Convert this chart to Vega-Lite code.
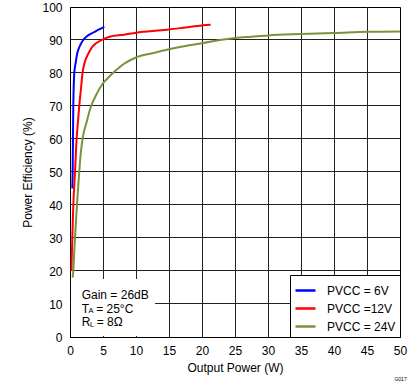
{
  "$schema": "https://vega.github.io/schema/vega-lite/v6.json",
  "autosize": "none",
  "width": 330,
  "height": 330,
  "padding": {"left": 70, "top": 7, "right": 19, "bottom": 45},
  "background": "white",
  "config": {
    "font": "Liberation Sans",
    "view": {"stroke": "black", "strokeWidth": 1},
    "axis": {
      "labelFont": "Liberation Sans", "titleFont": "Liberation Sans",
      "labelFontSize": 12, "titleFontSize": 12, "titleFontWeight": "normal",
      "labelColor": "black", "titleColor": "black",
      "domainColor": "black", "domainWidth": 1,
      "grid": false,
      "tickSize": 0, "tickOpacity": 0, "labelFlush": false, "labelPadding": 8
    },
    "axisX": {"tickCount": 10, "titlePadding": 6},
    "axisY": {"tickCount": 10, "titlePadding": 7},
    "legend": {
      "labelFont": "Liberation Sans", "labelFontSize": 12, "labelColor": "black"
    }
  },
  "title": {"text": "G017", "orient": "bottom", "anchor": "end", "fontSize": 5, "fontWeight": "normal", "font": "Liberation Sans", "offset": 4, "color": "black"},
  "datasets": {
    "curves": [
      {"s": "PVCC = 6V", "p": 0.35, "e": 45},
      {"s": "PVCC = 6V", "p": 0.4, "e": 50},
      {"s": "PVCC = 6V", "p": 0.45, "e": 60},
      {"s": "PVCC = 6V", "p": 0.5, "e": 70},
      {"s": "PVCC = 6V", "p": 0.65, "e": 80},
      {"s": "PVCC = 6V", "p": 0.85, "e": 83},
      {"s": "PVCC = 6V", "p": 1.1, "e": 86},
      {"s": "PVCC = 6V", "p": 1.5, "e": 88.2},
      {"s": "PVCC = 6V", "p": 2.0, "e": 90},
      {"s": "PVCC = 6V", "p": 2.6, "e": 91.2},
      {"s": "PVCC = 6V", "p": 3.3, "e": 92},
      {"s": "PVCC = 6V", "p": 4.0, "e": 92.8},
      {"s": "PVCC = 6V", "p": 4.6, "e": 93.4},
      {"s": "PVCC = 6V", "p": 5.2, "e": 94},
      {"s": "PVCC =12V", "p": 0.22, "e": 20},
      {"s": "PVCC =12V", "p": 0.25, "e": 23},
      {"s": "PVCC =12V", "p": 0.35, "e": 30},
      {"s": "PVCC =12V", "p": 0.5, "e": 40},
      {"s": "PVCC =12V", "p": 0.76, "e": 50},
      {"s": "PVCC =12V", "p": 1.0, "e": 60},
      {"s": "PVCC =12V", "p": 1.2, "e": 65},
      {"s": "PVCC =12V", "p": 1.4, "e": 70},
      {"s": "PVCC =12V", "p": 1.65, "e": 75},
      {"s": "PVCC =12V", "p": 1.9, "e": 80},
      {"s": "PVCC =12V", "p": 2.2, "e": 83},
      {"s": "PVCC =12V", "p": 2.8, "e": 86},
      {"s": "PVCC =12V", "p": 3.4, "e": 88},
      {"s": "PVCC =12V", "p": 4.8, "e": 90},
      {"s": "PVCC =12V", "p": 6.0, "e": 91},
      {"s": "PVCC =12V", "p": 8.2, "e": 91.6},
      {"s": "PVCC =12V", "p": 10, "e": 92.2},
      {"s": "PVCC =12V", "p": 12.5, "e": 92.7},
      {"s": "PVCC =12V", "p": 15, "e": 93.2},
      {"s": "PVCC =12V", "p": 17.5, "e": 93.8},
      {"s": "PVCC =12V", "p": 20, "e": 94.4},
      {"s": "PVCC =12V", "p": 21.3, "e": 94.6},
      {"s": "PVCC = 24V", "p": 0.4, "e": 18},
      {"s": "PVCC = 24V", "p": 0.5, "e": 20},
      {"s": "PVCC = 24V", "p": 0.62, "e": 25},
      {"s": "PVCC = 24V", "p": 0.76, "e": 30},
      {"s": "PVCC = 24V", "p": 0.9, "e": 35},
      {"s": "PVCC = 24V", "p": 1.06, "e": 40},
      {"s": "PVCC = 24V", "p": 1.22, "e": 45},
      {"s": "PVCC = 24V", "p": 1.4, "e": 50},
      {"s": "PVCC = 24V", "p": 1.6, "e": 55},
      {"s": "PVCC = 24V", "p": 1.9, "e": 60},
      {"s": "PVCC = 24V", "p": 2.5, "e": 65},
      {"s": "PVCC = 24V", "p": 3.2, "e": 70},
      {"s": "PVCC = 24V", "p": 4.0, "e": 73.5},
      {"s": "PVCC = 24V", "p": 5.0, "e": 76.9},
      {"s": "PVCC = 24V", "p": 6.0, "e": 79},
      {"s": "PVCC = 24V", "p": 6.8, "e": 80.5},
      {"s": "PVCC = 24V", "p": 8.2, "e": 82.8},
      {"s": "PVCC = 24V", "p": 10, "e": 84.7},
      {"s": "PVCC = 24V", "p": 12.5, "e": 86},
      {"s": "PVCC = 24V", "p": 15, "e": 87.2},
      {"s": "PVCC = 24V", "p": 17.5, "e": 88.2},
      {"s": "PVCC = 24V", "p": 20, "e": 89},
      {"s": "PVCC = 24V", "p": 22.7, "e": 90},
      {"s": "PVCC = 24V", "p": 25, "e": 90.6},
      {"s": "PVCC = 24V", "p": 27.5, "e": 91},
      {"s": "PVCC = 24V", "p": 30, "e": 91.4},
      {"s": "PVCC = 24V", "p": 35, "e": 91.8},
      {"s": "PVCC = 24V", "p": 40, "e": 92.1},
      {"s": "PVCC = 24V", "p": 45, "e": 92.5},
      {"s": "PVCC = 24V", "p": 50, "e": 92.6}
    ],
    "gridx": [{"g": 5}, {"g": 10}, {"g": 15}, {"g": 20}, {"g": 25}, {"g": 30}, {"g": 35}, {"g": 40}, {"g": 45}],
    "gridy": [{"g": 10}, {"g": 20}, {"g": 30}, {"g": 40}, {"g": 50}, {"g": 60}, {"g": 70}, {"g": 80}, {"g": 90}],
    "one": [{}]
  },
  "layer": [
    {
      "data": {"name": "gridx"},
      "mark": {"type": "rect", "fill": "#222222", "x2Offset": 1},
      "encoding": {
        "x": {"field": "g", "type": "quantitative"},
        "x2": {"field": "g"},
        "y": {"datum": 0},
        "y2": {"datum": 100}
      }
    },
    {
      "data": {"name": "gridy"},
      "mark": {"type": "rect", "fill": "#222222", "y2Offset": -1},
      "encoding": {
        "y": {"field": "g", "type": "quantitative"},
        "y2": {"field": "g"},
        "x": {"datum": 0},
        "x2": {"datum": 50}
      }
    },
    {
      "data": {"name": "curves"},
      "mark": {"type": "line", "strokeWidth": 2, "interpolate": "monotone", "clip": true},
      "encoding": {
        "x": {"field": "p", "type": "quantitative",
          "scale": {"domain": [0, 50], "nice": false, "zero": false},
          "axis": {"title": "Output Power (W)"}},
        "y": {"field": "e", "type": "quantitative",
          "scale": {"domain": [0, 100], "nice": false},
          "axis": {"title": "Power Efficiency (%)"}},
        "color": {"field": "s", "type": "nominal",
          "scale": {"domain": ["PVCC = 6V", "PVCC =12V", "PVCC = 24V"], "range": ["#0000FF", "#FF0000", "#77933C"]},
          "legend": {"title": null, "orient": "bottom-right", "offset": 0,
            "strokeColor": "black", "fillColor": "white", "padding": 4,
            "symbolType": "stroke", "symbolSize": 400, "symbolStrokeWidth": 2.5,
            "labelOffset": 10, "rowPadding": -6, "labelFontSize": 12}},
        "order": {"field": "p", "type": "quantitative"}
      }
    },
    {
      "data": {"name": "one"},
      "mark": {"type": "rect", "fill": "white"},
      "encoding": {
        "x": {"datum": 0.15}, "x2": {"datum": 12.9},
        "y": {"datum": 0.3}, "y2": {"datum": 17.6}
      }
    },
    {
      "data": {"name": "one"},
      "mark": {"type": "text", "align": "left", "baseline": "middle", "fontSize": 12, "color": "black"},
      "encoding": {"x": {"datum": 1.77}, "y": {"datum": 12.6}, "text": {"value": "Gain = 26dB"}}
    },
    {
      "data": {"name": "one"},
      "mark": {"type": "text", "align": "left", "baseline": "middle", "fontSize": 12, "color": "black"},
      "encoding": {"x": {"datum": 1.77}, "y": {"datum": 8.5}, "text": {"value": "T"}}
    },
    {
      "data": {"name": "one"},
      "mark": {"type": "text", "align": "left", "baseline": "middle", "fontSize": 7.5, "color": "black", "dx": 6.8, "dy": 2.5},
      "encoding": {"x": {"datum": 1.77}, "y": {"datum": 8.5}, "text": {"value": "A"}}
    },
    {
      "data": {"name": "one"},
      "mark": {"type": "text", "align": "left", "baseline": "middle", "fontSize": 12, "color": "black", "dx": 14.5},
      "encoding": {"x": {"datum": 1.77}, "y": {"datum": 8.5}, "text": {"value": "= 25°C"}}
    },
    {
      "data": {"name": "one"},
      "mark": {"type": "text", "align": "left", "baseline": "middle", "fontSize": 12, "color": "black"},
      "encoding": {"x": {"datum": 1.77}, "y": {"datum": 4.4}, "text": {"value": "R"}}
    },
    {
      "data": {"name": "one"},
      "mark": {"type": "text", "align": "left", "baseline": "middle", "fontSize": 7.5, "color": "black", "dx": 8.4, "dy": 2.5},
      "encoding": {"x": {"datum": 1.77}, "y": {"datum": 4.4}, "text": {"value": "L"}}
    },
    {
      "data": {"name": "one"},
      "mark": {"type": "text", "align": "left", "baseline": "middle", "fontSize": 12, "color": "black", "dx": 15},
      "encoding": {"x": {"datum": 1.77}, "y": {"datum": 4.4}, "text": {"value": "= 8Ω"}}
    }
  ]
}
